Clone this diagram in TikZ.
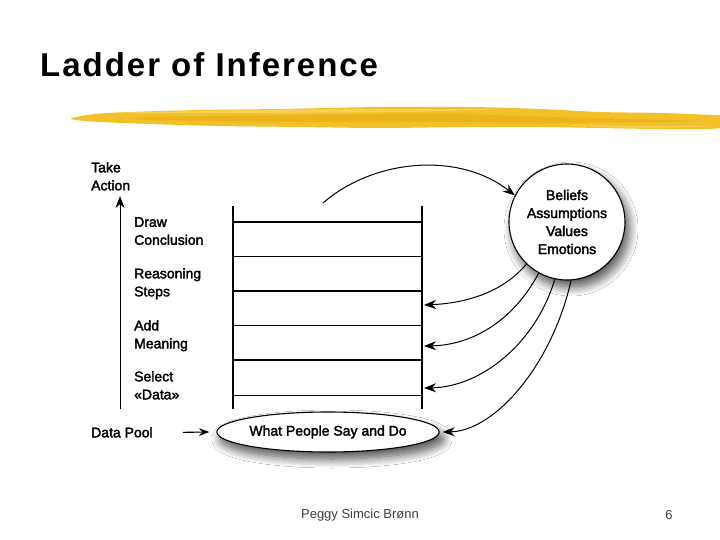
\documentclass[tikz,border=0pt]{standalone}
\usepackage{fontspec}
\setmainfont{Liberation Sans}
\newfontfamily\labelfont{Liberation Sans}[FakeBold=2.2]
\newfontfamily\titlefont{Liberation Sans}[LetterSpace=6]
\usetikzlibrary{arrows.meta,shadows.blur,shapes.geometric}
\definecolor{brushA}{RGB}{242,192,40}
\definecolor{brushB}{RGB}{232,170,16}
\definecolor{brushC}{RGB}{248,214,96}
\definecolor{footgray}{RGB}{60,60,60}
\tikzset{
  lbl/.style={font=\labelfont\fontsize{14}{18}\selectfont, align=left, anchor=north west, inner sep=0pt},
  rail/.style={line width=1.1pt},
  rungthick/.style={line width=1.7pt},
  rungthin/.style={line width=0.8pt},
  ladderarrow/.style={line width=1pt, arrows={-Stealth[scale=1.6]}},
  smallarrow/.style={line width=1.1pt, arrows={-Stealth[scale=1.3]}},
  softshadow/.style={blur shadow={shadow xshift=4pt, shadow yshift=-7pt, shadow blur radius=9pt, shadow opacity=70, shadow blur steps=14}},
  footer/.style={font=\fontsize{13}{15}\selectfont, text=footgray, inner sep=0pt}
}
\begin{document}
\begin{tikzpicture}[x=1pt,y=1pt]
\useasboundingbox (0,0) rectangle (720,-540);
\fill[white] (0,0) rectangle (720,-540);

% title
\node[font=\titlefont\bfseries\fontsize{33}{38}\selectfont, anchor=base west, inner sep=0pt] (title) at (40,-77) {Ladder of Inference};

% brush stroke
\fill[brushA] plot[smooth cycle] coordinates {(72,-118) (95,-114) (130,-112) (200,-110) (280,-109) (380,-107) (470,-107) (540,-109) (600,-112) (660,-113) (712,-115) (720,-116) (720,-128) (660,-129) (600,-128) (540,-127) (470,-127) (380,-128) (300,-127) (220,-126) (150,-124) (100,-122) (76,-120)};
\fill[brushB, opacity=0.55] plot[smooth cycle] coordinates {(150,-117) (300,-115) (450,-114) (550,-117) (700,-121) (550,-123) (450,-122) (300,-122) (150,-120)};
\fill[brushC, opacity=0.8] plot[smooth cycle] coordinates {(110,-113) (250,-110) (400,-109) (500,-109) (400,-112) (250,-113)};
\fill[brushC, opacity=0.7] plot[smooth cycle] coordinates {(560,-125) (640,-126) (716,-126) (640,-128)};

% ladder
\draw[rail] (233,-206) -- (233,-409);
\draw[rail] (422,-206) -- (422,-409);
\draw[rungthick] (233,-222) -- (422,-222);
\draw[rungthin]  (233,-256) -- (422,-256);
\draw[rungthick] (233,-291) -- (422,-291);
\draw[rungthin]  (233,-325) -- (422,-325);
\draw[rungthick] (233,-360) -- (422,-360);
\draw[rungthin]  (233,-395) -- (422,-395);

% left labels
\node[lbl] (take) at (91,-162) {Take\\Action};
\node[lbl] (draw) at (134,-217) {Draw\\Conclusion};
\node[lbl] (reason) at (134,-268) {Reasoning\\Steps};
\node[lbl] (add) at (134,-320) {Add\\Meaning};
\node[lbl] (select) at (134,-371) {Select\\«Data»};
\node[lbl] (pool) at (91,-427) {Data Pool};

% vertical arrow
\coordinate (vbot) at (120,-409);
\coordinate (vtop) at (120,-196);
\draw[ladderarrow] (vbot) -- (vtop);

% ellipse
\node[ellipse, draw, line width=1.1pt, fill=white, minimum width=216pt, minimum height=40pt, inner sep=0pt, softshadow, font=\labelfont\fontsize{14}{18}\selectfont] (say) at (328,-432) {What People Say and Do};

% data pool arrow
\draw[smallarrow] ([xshift=30pt]pool.east) -- ([xshift=-7pt]say.west);

% beliefs circle
\node[circle, draw, line width=1.1pt, fill=white, minimum size=116pt, inner sep=0pt, softshadow, align=center, font=\labelfont\fontsize{14}{18}\selectfont] (bel) at (567,-222) {Beliefs\\Assumptions\\Values\\Emotions};

% top curved arrow
\coordinate (tstart) at (323,-203);
\draw[ladderarrow] (tstart) .. controls (375,-158) and (460,-152) .. (bel.153);

% return arrows
\coordinate (r1) at (424,-305);
\coordinate (r2) at (424,-346);
\coordinate (r3) at (424,-388);
\draw[ladderarrow] (bel.226) .. controls (505,-290) and (470,-303) .. (r1);
\draw[ladderarrow] (bel.241) .. controls (515,-318) and (475,-345) .. (r2);
\draw[ladderarrow] (bel.258) .. controls (535,-345) and (480,-387) .. (r3);
\draw[ladderarrow] (bel.274) .. controls (552,-365) and (495,-431) .. ([xshift=3pt]say.east);

% footer
\node[footer] (author) at (360,-515) {Peggy Simcic Brønn};
\node[footer] (page) at (669,-515) {6};
\end{tikzpicture}
\end{document}
